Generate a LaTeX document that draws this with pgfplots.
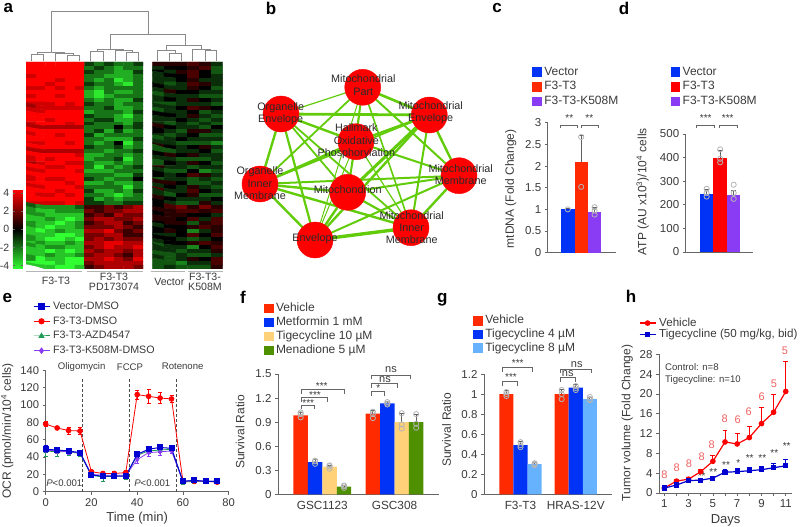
\documentclass[border=0pt]{standalone}
\usepackage{pgfplots}
\pgfplotsset{compat=1.18}
\usepackage{fontspec}
\setmainfont{Liberation Sans}
\newcommand\fs[1]{\fontsize{#1}{#1}\selectfont}
\definecolor{axcol}{HTML}{666666}
\definecolor{txt}{HTML}{3A3A3A}
\definecolor{nettxt}{HTML}{2A2A2A}
\definecolor{edgecol}{HTML}{62CC0A}
\definecolor{dendro}{HTML}{8A8A8A}
\definecolor{dotcol}{HTML}{B4B4B4}
\definecolor{ebcol}{HTML}{606060}
\definecolor{cblue}{HTML}{0033F5}
\definecolor{cred}{HTML}{FF2A00}
\definecolor{cpurple}{HTML}{8A3CF5}
\definecolor{cyellow}{HTML}{FFD27A}
\definecolor{cgreen}{HTML}{4F9000}
\definecolor{clight}{HTML}{66B2FF}
\definecolor{lred}{HTML}{F06060}
\definecolor{vblue}{HTML}{0000D0}
\definecolor{azd}{HTML}{1E9A55}

\pgfplotsset{
  pan/.style={
    scale only axis, anchor=south west, clip=false, enlargelimits=false,
    axis x line*=bottom, axis y line*=left,
    axis line style={axcol,line width=.8pt},
    tick align=outside, tick style={axcol,line width=.7pt}, major tick length=3pt,
    tick label style={font=\fs{11.5},color=txt},
    /pgf/number format/assume math mode=true,
    scaled y ticks=false,
  },
  ylab/.style 2 args={every axis y label/.style={at={(axis description cs:0,#2)},xshift=#1pt,rotate=90,anchor=center,font=\fs{12},color=txt}},
  xlab/.style={every axis x label/.style={at={(axis description cs:0.5,0)},yshift=#1pt,anchor=center,font=\fs{13},color=txt}},
  legat/.style 2 args={legend style={at={(axis description cs:0,0)},anchor=north west,xshift=#1pt,yshift=#2pt,
      draw=none,fill=none,inner sep=0pt,outer sep=0pt,font=\fs{12},text=txt,
      nodes={inner sep=0pt,text height=8.6pt,text depth=2.6pt,anchor=west}},
      legend cell align=left},
  sw/.style={legend image code/.code={\fill[##1] (0pt,-4.8pt) rectangle (9.7pt,4.8pt); \path (12pt,0pt);}},
  ln/.style={legend image code/.code={\draw[mark repeat=2,mark phase=2,##1] plot coordinates {(0pt,0pt)(8pt,0pt)(16pt,0pt)}; \path (19pt,0pt);}},
  ebar/.style={error bars/y dir=plus,error bars/y explicit,
    error bars/error bar style={color=#1,line width=.9pt},
    error bars/error mark options={rotate=90,mark size=2.4pt,color=#1,line width=.9pt}},
  ebboth/.style={error bars/y dir=both,error bars/y explicit,
    error bars/error bar style={color=#1,line width=.7pt},
    error bars/error mark options={rotate=90,mark size=2pt,color=#1,line width=.7pt}},
  dots/.style={only marks,forget plot,mark=o,mark size=2.6pt,mark options={draw=dotcol,line width=.8pt}},
  bar/.style={ybar,bar shift=0pt,draw=none,fill=#1,sw},
  hm/.style={matrix plot*,mesh/cols=#1,point meta=explicit},
  heat/.style={scale only axis,anchor=south west,hide axis,enlargelimits=false,y dir=reverse,
    colormap={rg}{rgb255(0)=(50,255,50) rgb255(1)=(0,0,0) rgb255(2)=(255,0,0)},
    point meta min=-4.4,point meta max=4.4},
  pixgrid/.style={at={(0pt,0pt)},anchor=south west,scale only axis,width=800pt,height=527pt,
    hide axis,clip=false,enlargelimits=false,xmin=0,xmax=800,ymin=0,ymax=527,y dir=reverse},
}

% helpers for the pixel-grid overlay axis
\newcommand\e[5]{\addplot[edgecol,line width=#5pt] coordinates {(#1,#2)(#3,#4)};}
\newcommand\dn[1]{\addplot[dendro,line width=.8pt] coordinates {#1};}
\newcommand\br[4]{\addplot[axcol,line width=.7pt] coordinates {(#1,#4)(#1,#3)(#2,#3)(#2,#4)};}
\newcommand\lab[3]{\node[font=\fs{10.6},color=txt,align=center,inner sep=0pt] at (#1,#2) {#3};}
\newcommand\net[3]{\node[font=\fs{10.8},color=nettxt,align=center,inner sep=0pt] at (#1,#2) {#3};}
\newcommand\sig[3]{\node[font=\fs{10},color=txt,inner sep=0pt] at (#1,#2) {#3};}
\newcommand\plet[3]{\node[font=\bfseries\fs{17},color=black,inner sep=0pt] at (#1,#2) {#3};}
\newcommand\hl[3]{\node[font=\fs{11},color=lred,inner sep=0pt] at (#1,#2) {#3};}

\begin{document}
\begin{tikzpicture}[x=1pt,y=1pt]
\path[use as bounding box] (0pt,0pt) rectangle (800pt,527pt);

% overlay in reference pixels: dendrograms, network, brackets, letters
\begin{axis}[pixgrid]
\plet{8.3}{8.3}{a}\plet{271}{8.3}{b}\plet{497}{8.3}{c}\plet{624}{8.3}{d}
\plet{7.3}{297.7}{e}\plet{243}{297.7}{f}\plet{442.3}{299.3}{g}\plet{631}{296.7}{h}

% dendrogram
\dn{(51,52.7)(51,11.7)(148.3,11.7)(148.3,34.3)}
\dn{(110.7,49.3)(110.7,34.3)(185,34.3)(185,45)}
\dn{(166.7,50.7)(166.7,45)(201.7,45)(201.7,49)}
\dn{(31.7,61.3)(31.7,54)(43.3,54)(43.3,61.3)}
\dn{(55.7,61.3)(55.7,53.3)(73.3,53.3)(73.3,55)}
\dn{(67.7,61.3)(67.7,55)(79.3,55)(79.3,61.3)}
\dn{(37.3,54)(37.3,52.7)(64.7,52.7)(64.7,53.3)}
\dn{(90.7,61.3)(90.7,51.7)(103.3,51.7)(103.3,61.3)}
\dn{(115,61.3)(115,50.7)(132.3,50.7)(132.3,52)}
\dn{(126.7,61.3)(126.7,52)(138.3,52)(138.3,61.3)}
\dn{(97,51.7)(97,49.3)(123.3,49.3)(123.3,50.7)}
\dn{(157.3,61.3)(157.3,50.7)(175,50.7)(175,53.3)}
\dn{(169.3,61.3)(169.3,53.3)(181,53.3)(181,61.3)}
\dn{(192.7,61.3)(192.7,49)(210.7,49)(210.7,50.7)}
\dn{(205,61.3)(205,50.7)(216.7,50.7)(216.7,61.3)}
\addplot[dotcol,line width=1pt] coordinates {(26,271)(81.7,271)};
\addplot[dotcol,line width=1pt] coordinates {(86.7,271)(142.7,271)};
\addplot[dotcol,line width=1pt] coordinates {(150.7,271)(185,271)};
\addplot[dotcol,line width=1pt] coordinates {(188.3,271)(223.3,271)};
\lab{56}{281}{F3-T3}
\lab{114}{281.5}{F3-T3\\[-.5pt]PD173074}
\lab{169.3}{281.7}{Vector}
\lab{205}{282}{F3-T3-\\[-.5pt]K508M}

% network edges
\e{362.7}{87.3}{281}{114}{1.2}
\e{362.7}{87.3}{429.3}{115}{2.6}
\e{362.7}{87.3}{356}{141.7}{1.6}
\e{362.7}{87.3}{459}{175.7}{2}
\e{362.7}{87.3}{260}{184}{1.8}
\e{362.7}{87.3}{347.7}{192.3}{1.5}
\e{362.7}{87.3}{411}{227.7}{1.6}
\e{362.7}{87.3}{315}{240}{1}
\e{281}{114}{429.3}{115}{2.8}
\e{281}{114}{356}{141.7}{2.4}
\e{281}{114}{260}{184}{2.4}
\e{281}{114}{315}{240}{2.2}
\e{281}{114}{347.7}{192.3}{1.8}
\e{281}{114}{411}{227.7}{1.8}
\e{429.3}{115}{356}{141.7}{2.4}
\e{429.3}{115}{459}{175.7}{2.4}
\e{429.3}{115}{411}{227.7}{2}
\e{429.3}{115}{260}{184}{1.6}
\e{429.3}{115}{347.7}{192.3}{3}
\e{429.3}{115}{315}{240}{2.4}
\e{356}{141.7}{260}{184}{2.6}
\e{356}{141.7}{459}{175.7}{2}
\e{356}{141.7}{347.7}{192.3}{1.5}
\e{356}{141.7}{411}{227.7}{1.2}
\e{356}{141.7}{315}{240}{1}
\e{459}{175.7}{260}{184}{2}
\e{459}{175.7}{347.7}{192.3}{2}
\e{459}{175.7}{411}{227.7}{2.4}
\e{459}{175.7}{315}{240}{2}
\e{260}{184}{347.7}{192.3}{2.4}
\e{260}{184}{411}{227.7}{2.4}
\e{260}{184}{315}{240}{2.4}
\e{347.7}{192.3}{411}{227.7}{2.2}
\e{347.7}{192.3}{315}{240}{2.4}
\e{411}{227.7}{315}{240}{3.4}
\addplot[red,only marks,mark=*,mark size=18pt,mark options={draw=red,fill=red}] coordinates {
  (362.7,87.3)(281,114)(429.3,115)(356,141.7)(459,175.7)(260,184)(347.7,192.3)(411,227.7)(315,240)};

% brackets c, d
\br{560}{577.3}{125}{128.3}\br{581}{598.3}{125}{128.3}
\sig{569.3}{118.3}{**}\sig{589.3}{118.3}{**}
\br{696.7}{714}{125.3}{128.3}\br{719}{737}{125.3}{128.3}
\sig{705.7}{118.3}{***}\sig{727.7}{118.3}{***}
% brackets f
\br{301}{314}{405.7}{409.3}\sig{308.3}{402.7}{***}
\br{301}{327.3}{397.3}{401.7}\sig{315}{394.7}{***}
\br{301}{344.3}{389.3}{394}\sig{321.7}{386}{***}
\br{371.7}{384.3}{391.7}{396}\sig{378.3}{388.3}{*}
\br{371.7}{397.7}{383.3}{387.7}\node[font=\fs{11},color=txt] at (385,379.3) {ns};
\br{371.7}{410.7}{375}{379.3}\node[font=\fs{11},color=txt] at (391,369.3) {ns};
% brackets g
\br{502.7}{517.3}{381.7}{386}\sig{511}{377.3}{***}
\br{502.7}{532.3}{367.3}{372}\sig{517.7}{362.7}{***}
\br{560.7}{575}{377.7}{382}\node[font=\fs{11},color=txt] at (567.7,373.3) {ns};
\br{560.7}{591.3}{369}{373.3}\node[font=\fs{11},color=txt] at (576.7,364.3) {ns};

% annotations e
\node[font=\fs{9.6},color=txt] at (81.7,366.7) {Oligomycin};
\node[font=\fs{9.6},color=txt] at (130,366.7) {FCCP};
\node[font=\fs{9.6},color=txt] at (182.7,366.7) {Rotenone};
\node[font=\fs{9.6},color=txt] at (64.3,483.3) {\textit{P}<0.001};
\node[font=\fs{9.6},color=txt] at (152.3,483.3) {\textit{P}<0.001};
% annotations h
\node[font=\fs{9.6},color=txt,anchor=west,inner sep=0pt] at (665,367) {Control: n=8};
\node[font=\fs{9.6},color=txt,anchor=west,inner sep=0pt] at (665,380) {Tigecycline: n=10};
\hl{664.3}{474.3}{8}\hl{676.7}{467.3}{8}\hl{689}{463.3}{8}\hl{701.7}{456.3}{8}\hl{711.7}{445}{8}
\hl{724.7}{419}{8}\hl{737.7}{419.7}{6}\hl{748.7}{411.3}{6}\hl{761.7}{396.7}{6}\hl{774}{383.3}{5}\hl{785}{350.7}{5}
\sig{701.7}{476}{**}\sig{713.3}{471.7}{**}\sig{726}{465}{**}\sig{738.3}{462.7}{*}\sig{749.7}{458.3}{**}
\sig{762.3}{457.7}{**}\sig{774.3}{452.7}{**}\sig{786.7}{446}{**}
\end{axis}

% network labels go over the node discs
\begin{axis}[pixgrid]
\net{363.3}{85}{Mitochondrial\\[1.5pt]Part}
\net{280.7}{114}{Organelle\\[1.5pt]Envelope}
\net{430.7}{112.7}{Mitochondrial\\[1.5pt]Envelope}
\net{356.3}{141.3}{Hallmark\\[1.5pt]Oxidative\\[1.5pt]Phosphorylation}
\net{460.7}{174.3}{Mitochondrial\\[1.5pt]Membrane}
\net{260}{183.3}{Organelle\\[1.5pt]Inner\\[1.5pt]Membrane}
\net{347.7}{190}{Mitochondrion}
\net{411.7}{227.7}{Mitochondrial\\[1.5pt]Inner\\[1.5pt]Membrane}
\net{315}{238.3}{Envelope}
\end{axis}

% a: heat map, left block
\begin{axis}[heat,at={(26pt,258pt)},width=117pt,height=207pt,xmin=-.5,xmax=11.5,ymin=-.5,ymax=51.5,
  colorbar,colorbar style={at={(parent axis.south west)},anchor=south west,xshift=-21.7pt,
    width=10pt,height=79.3pt,ytick={-4,-2,0,2,4},yticklabel pos=left,
    axis line style={draw=none},tick style={axcol,line width=.6pt},major tick length=2pt,
    tick label style={font=\fs{10.5},color=txt},/pgf/number format/assume math mode=true}]
\addplot[hm=12] table[row sep=\\,header=false,x expr={mod(\coordindex,12)},y expr={floor(\coordindex/12)},meta index=0] {
4.4\\4.4\\4.4\\4.4\\4.4\\4.4\\-1\\-2\\-1\\-2\\-2\\-1\\
4.4\\4.4\\4.4\\4.4\\4.4\\4.4\\-2\\-1\\-2\\-3\\-2\\-2\\
4.4\\4.4\\4.4\\4.4\\4.4\\4.4\\-1\\-2\\-2\\-3\\-3\\-1\\
3.6\\4.4\\4.4\\4.4\\4.4\\4.4\\-2\\-2\\-3\\-3\\-3\\-2\\
4.4\\4.4\\4.4\\3.6\\4.4\\4.4\\-2\\-3\\-2\\-4\\-3\\-2\\
4.4\\4.4\\3.6\\4.4\\4.4\\4.4\\-1\\-2\\-2\\-3\\-4\\-2\\
3.6\\3.6\\4.4\\3.6\\4.4\\3.6\\-2\\-3\\-2\\-2\\-2\\-2\\
4.4\\4.4\\4.4\\4.4\\4.4\\4.4\\-3\\-4\\-2\\-3\\-3\\-2\\
3.6\\4.4\\4.4\\3.6\\4.4\\4.4\\-3\\-4\\-3\\-2\\-2\\-2\\
4.4\\4.4\\4.4\\4.4\\4.4\\4.4\\-2\\-3\\-2\\-3\\-3\\-1\\
3.6\\3.6\\3.6\\4.4\\3.6\\4.4\\-1\\-2\\-2\\-3\\-2\\-2\\
2.8\\3.6\\3.6\\3.6\\3.6\\3.6\\-2\\-2\\-1\\-3\\-3\\-2\\
3.6\\3.6\\4.4\\4.4\\4.4\\4.4\\-3\\-2\\-2\\-2\\-3\\-1\\
4.4\\4.4\\4.4\\4.4\\4.4\\4.4\\-1\\-2\\-2\\-3\\-4\\-2\\
4.4\\4.4\\3.6\\4.4\\4.4\\4.4\\-2\\-1\\-1\\-3\\-3\\-2\\
3.6\\4.4\\4.4\\4.4\\3.6\\4.4\\-1\\-2\\-2\\-2\\-3\\-1\\
3\\3\\3\\3\\3\\3\\-2\\-2\\-2\\0\\-2\\-1\\
4.4\\4.4\\4.4\\4.4\\4.4\\4.4\\-2\\-1\\-3\\-1\\-3\\-2\\
3.6\\4.4\\4.4\\3.6\\4.4\\4.4\\-1\\-3\\-2\\-2\\-2\\-2\\
4.4\\4.4\\4.4\\4.4\\4.4\\4.4\\-2\\-2\\-3\\-3\\-3\\-1\\
3.6\\3.6\\4.4\\4.4\\3.6\\4.4\\-2\\-3\\-2\\0\\-4\\-2\\
4.4\\4.4\\4.4\\4.4\\4.4\\4.4\\-1\\-2\\-2\\-1\\-3\\-2\\
3\\3\\3\\3\\3\\3\\-2\\-2\\-3\\-2\\-2\\-1\\
4.4\\4.4\\4.4\\4.4\\4.4\\3.6\\-3\\-3\\-2\\-2\\-3\\-2\\
3.6\\4.4\\3.6\\4.4\\4.4\\4.4\\-3\\-2\\-2\\-1\\-4\\-2\\
2.8\\3.6\\4.4\\4.4\\3.6\\3.6\\-2\\-3\\-3\\-2\\-3\\-2\\
4.4\\4.4\\3.6\\3.6\\4.4\\4.4\\-2\\-4\\-2\\-3\\-2\\-1\\
3.6\\3.6\\4.4\\4.4\\4.4\\3.6\\-3\\-3\\-3\\-2\\-2\\-2\\
4.4\\4.4\\4.4\\4.4\\4.4\\4.4\\-2\\-2\\-2\\-3\\-3\\-1\\
3.6\\4.4\\3.6\\3.6\\4.4\\4.4\\-1\\-2\\-3\\-2\\-2\\0\\
4.4\\4.4\\4.4\\4.4\\3.6\\4.4\\-3\\-3\\-2\\-3\\-3\\-2\\
3.6\\3.6\\4.4\\4.4\\4.4\\3.6\\-2\\-2\\-2\\-2\\-4\\-2\\
4.4\\4.4\\4.4\\3.6\\4.4\\4.4\\-1\\-3\\-3\\-2\\-3\\-1\\
4.4\\3.6\\3.6\\4.4\\3.6\\4.4\\-2\\-2\\-3\\-4\\-3\\-2\\
4.4\\4.4\\4.4\\4.4\\4.4\\4.4\\-1\\-3\\-2\\-3\\-2\\-2\\
3.6\\3.6\\3.6\\3.6\\4.4\\3.6\\-1\\-1\\-2\\-2\\-1\\-1\\
-1.5\\-2.5\\-2.5\\-2.5\\-2.5\\-1.5\\1\\1\\2\\1\\2\\3\\
-2.5\\-3.4\\-3.4\\-2.5\\-2.5\\-2.5\\2\\1\\2\\2\\3\\3\\
-2.5\\-2.5\\-3.4\\-3.4\\-3.4\\-3.4\\1\\2\\1\\3\\2\\2\\
-3.4\\-3.4\\-2.5\\-3.4\\-4.4\\-3.4\\2\\3\\3\\2\\2\\3\\
-2.5\\-3.4\\-3.4\\-4.4\\-3.4\\-2.5\\1\\2\\3\\3\\1\\2\\
-2.5\\-3.4\\-4.4\\-3.4\\-3.4\\-2.5\\2\\2\\2\\3\\2\\1\\
-3.4\\-4.4\\-3.4\\-2.5\\-3.4\\-3.4\\3\\3\\4\\2\\1\\2\\
-3.4\\-3.4\\-3.4\\-4.4\\-4.4\\-3.4\\2\\2\\3\\3\\1\\1\\
-2.5\\-3.4\\-4.4\\-4.4\\-3.4\\-4.4\\2\\3\\2\\3\\2\\2\\
-3.4\\-2.5\\-3.4\\-3.4\\-2.5\\-3.4\\3\\3\\4\\4\\3\\3\\
-2.5\\-3.4\\-2.5\\-2.5\\-3.4\\-3.4\\2\\3\\4\\3\\3\\4\\
-3.4\\-3.4\\-4.4\\-3.4\\-4.4\\-3.4\\3\\2\\3\\3\\2\\3\\
-3.4\\-3.4\\-2.5\\-3.4\\-3.4\\-2.5\\2\\3\\3\\2\\1\\3\\
-2.5\\-4.4\\-3.4\\-3.4\\-4.4\\-4.4\\3\\3\\4\\3\\2\\4\\
-4.4\\-4.4\\-4.4\\-3.4\\-4.4\\-4.4\\2\\3\\3\\3\\3\\3\\
-3.4\\-3.4\\-3.4\\-4.4\\-4.4\\-3.4\\1\\2\\3\\3\\3\\2\\
};
\end{axis}

% a: heat map, right block
\begin{axis}[heat,at={(152.3pt,258pt)},width=70.4pt,height=207pt,xmin=-.5,xmax=5.5,ymin=-.5,ymax=51.5]
\addplot[hm=6] table[row sep=\\,header=false,x expr={mod(\coordindex,6)},y expr={floor(\coordindex/6)},meta index=0] {
.7\\.7\\.7\\1.3\\.7\\-.8\\
-.8\\0\\0\\.7\\1.3\\-1.5\\
0\\-.8\\.7\\1.3\\0\\-1.5\\
-.8\\0\\0\\1.3\\0\\-.8\\
-.8\\-.8\\0\\.7\\-.8\\-.8\\
-.8\\-1.5\\-.8\\1.3\\.7\\-.8\\
0\\-.8\\-.8\\.7\\0\\-1.5\\
-.8\\.7\\0\\0\\-.8\\-.8\\
-1.5\\-.8\\-.8\\-.8\\-1.5\\-1.5\\
-.8\\0\\-.8\\.7\\0\\-.8\\
-1.5\\-1.5\\-.8\\-.8\\-.8\\-1.5\\
-.8\\-.8\\0\\1.3\\.7\\0\\
-1.5\\-.8\\-.8\\0\\-1.5\\-.8\\
0\\0\\-.8\\.7\\-.8\\-1.5\\
-.8\\-.8\\0\\-.8\\-1.5\\-.8\\
-.8\\-1.5\\-.8\\-1.5\\-.8\\-1.5\\
.7\\0\\-.8\\-.8\\-1.5\\0\\
0\\-.8\\-1.5\\.7\\.7\\-.8\\
-.8\\-1.5\\-.8\\0\\-1.5\\-1.5\\
-1.5\\-.8\\0\\-.8\\-.8\\-.8\\
-.8\\-.8\\-1.5\\-1.5\\-1.5\\-2.3\\
.7\\0\\-.8\\0\\.7\\-.8\\
-1.5\\-1.5\\-.8\\-.8\\0\\-1.5\\
0\\.7\\0\\.7\\-.8\\-.8\\
-.8\\-.8\\-1.5\\-1.5\\-1.5\\-.8\\
-1.5\\0\\-.8\\.7\\0\\-1.5\\
.7\\-.8\\-.8\\-1.5\\-.8\\-.8\\
-.8\\-1.5\\-1.5\\0\\-2.3\\-1.5\\
0\\-.8\\0\\1.3\\.7\\-.8\\
-1.5\\-.8\\-.8\\-1.5\\-.8\\-1.5\\
.7\\.7\\0\\-1.5\\-1.5\\-.8\\
-.8\\0\\-.8\\.7\\-.8\\-1.5\\
1.3\\-.8\\-.8\\1.3\\0\\-.8\\
-.8\\-1.5\\0\\.7\\-1.5\\-1.5\\
.7\\0\\-.8\\-.8\\-.8\\0\\
0\\-.8\\-1.5\\-1.5\\.7\\-.8\\
0\\1.3\\2\\.7\\2\\.7\\
.7\\.7\\1.3\\1.3\\.7\\1.3\\
0\\.7\\.7\\0\\0\\-.8\\
.7\\.7\\0\\1.3\\-.8\\1.3\\
0\\.7\\.7\\-1.5\\.7\\1.3\\
-.8\\0\\0\\.7\\1.3\\.7\\
0\\.7\\0\\-2.3\\-.8\\.7\\
-.8\\-.8\\0\\1.3\\0\\1.3\\
0\\0\\-.8\\-1.5\\-.8\\0\\
-.8\\0\\0\\.7\\1.3\\.7\\
-1.5\\-.8\\-.8\\-2.3\\0\\1.3\\
-.8\\-.8\\-1.5\\-.8\\-.8\\.7\\
-1.5\\-1.5\\-.8\\-1.5\\-1.5\\-.8\\
-.8\\-1.5\\-.8\\.7\\0\\1.3\\
-1.5\\-1.5\\-2.3\\-.8\\-.8\\1.3\\
-1.5\\-.8\\-1.5\\-1.5\\-1.5\\.7\\
};
\end{axis}

% c
\begin{axis}[pan,at={(547.7pt,274.3pt)},width=68pt,height=130pt,xmin=-2.5,xmax=2.575,ymin=0,ymax=3,
  bar width=13.4pt,xtick=\empty,ytick={0,0.5,1,1.5,2,2.5,3},
  ylabel={mtDNA (Fold Change)},ylab={-37}{.492},legat={-15.4}{186},legend style={row sep=3.5pt}]
\addplot[bar=cblue,ebar=ebcol] coordinates {(-1,1) +- (0,0.02)};
\addlegendentry{Vector}
\addplot[bar=cred,ebar=ebcol] coordinates {(0,2.1) +- (0,0.6)};
\addlegendentry{F3-T3}
\addplot[bar=cpurple,ebar=ebcol] coordinates {(1,0.95) +- (0,0.1)};
\addlegendentry{F3-T3-K508M}
\addplot[dots] coordinates {(-1,1)(0,2.67)(0,1.52)(1,1.05)(1,0.88)(1,0.97)};
\end{axis}

% d
\begin{axis}[pan,at={(685.7pt,275pt)},width=67.3pt,height=118pt,xmin=-2.55,xmax=2.43,ymin=0,ymax=500,
  bar width=13.5pt,xtick=\empty,ytick={0,100,200,300,400,500},
  ylabel={ATP (AU x10\textsuperscript{3})/10\textsuperscript{4} cells},ylab={-43}{.51},legat={-15}{185.3},legend style={row sep=3.5pt}]
\addplot[bar=cblue,ebar=ebcol] coordinates {(-1,245) +- (0,20)};
\addlegendentry{Vector}
\addplot[bar=red,ebar=ebcol] coordinates {(0,400) +- (0,30)};
\addlegendentry{F3-T3}
\addplot[bar=cpurple,ebar=ebcol] coordinates {(1,240) +- (0,20)};
\addlegendentry{F3-T3-K508M}
\addplot[dots] coordinates {(-1,268)(-1,250)(-1,235)(0,435)(0,395)(0,380)(1,285)(1,250)(1,225)};
\end{axis}

% e
\begin{axis}[pan,at={(45.7pt,35.3pt)},width=183pt,height=121.4pt,xmin=0,xmax=80,ymin=0,ymax=140,
  xtick={0,20,40,60,80},ytick={0,20,40,60,80,100,120,140},
  xlabel={Time (min)},xlab={-26.6},
  ylabel={OCR (pmol/min/10\textsuperscript{4} cells)},ylab={-38.4}{.5},
  legat={-12.7}{190.7},legend style={row sep=3.5pt,font=\fs{10.7}},
  tick label style={font=\fs{11.2}}]
\addlegendimage{ln,vblue,line width=1pt,mark=square*,mark size=2.6pt}
\addlegendentry{Vector-DMSO}
\addlegendimage{ln,red,line width=1pt,mark=*,mark size=2.6pt}
\addlegendentry{F3-T3-DMSO}
\addlegendimage{ln,azd,line width=1pt,mark=triangle*,mark size=2.6pt}
\addlegendentry{F3-T3-AZD4547}
\addlegendimage{ln,cpurple,line width=1pt,mark=diamond*,mark size=2.6pt}
\addlegendentry{F3-T3-K508M-DMSO}
\addplot[forget plot,black!70,densely dashed,line width=.6pt] coordinates {(16.2,0)(16.2,131)};
\addplot[forget plot,black!70,densely dashed,line width=.6pt] coordinates {(36.6,0)(36.6,131)};
\addplot[forget plot,black!70,densely dashed,line width=.6pt] coordinates {(57,0)(57,131)};
\addplot[forget plot,red,line width=.8pt,mark=*,mark size=2.4pt,ebboth=red] coordinates {
(0,78) +- (0,3) (5,73.5) +- (0,1) (10,70.5) +- (0,4) (15,70) +- (0,4)
(20,23) +- (0,2) (25,21) +- (0,2) (30,21) +- (0,3) (35,22) +- (0,3)
(40,112) +- (0,5) (45,110) +- (0,8) (50,108) +- (0,6) (55,107) +- (0,4)
(60,12) +- (0,1) (65,12) +- (0,1) (70,12) +- (0,1) (75,11) +- (0,1)};
\addplot[forget plot,azd,line width=.8pt,mark=triangle*,mark size=2.2pt,ebboth=azd] coordinates {
(0,47) +- (0,6) (5,46) +- (0,5) (10,46) +- (0,4) (15,44) +- (0,3)
(20,19) +- (0,2) (25,17) +- (0,5) (30,18) +- (0,3) (35,18) +- (0,4)
(40,42) +- (0,3) (45,47) +- (0,3) (50,48) +- (0,3) (55,49) +- (0,3)
(60,11) +- (0,2) (65,12) +- (0,2) (70,12) +- (0,1) (75,12) +- (0,1)};
\addplot[forget plot,cpurple,line width=.8pt,mark=diamond*,mark size=2.2pt,ebboth=cpurple] coordinates {
(0,48) +- (0,3) (5,47) +- (0,3) (10,46) +- (0,3) (15,45) +- (0,2)
(20,20) +- (0,2) (25,19) +- (0,2) (30,19) +- (0,2) (35,19) +- (0,2)
(40,37) +- (0,4) (45,45) +- (0,4) (50,46) +- (0,4) (55,47) +- (0,3)
(60,12) +- (0,1) (65,13) +- (0,1) (70,12) +- (0,1) (75,12) +- (0,1)};
\addplot[forget plot,vblue,line width=1pt,mark=square*,mark size=2.5pt,ebboth=vblue] coordinates {
(0,49) +- (0,4) (5,48) +- (0,3) (10,47) +- (0,3) (15,45) +- (0,3)
(20,19) +- (0,2) (25,18) +- (0,3) (30,18) +- (0,2) (35,18) +- (0,3)
(40,43) +- (0,3) (45,49) +- (0,3) (50,51) +- (0,4) (55,50) +- (0,3)
(60,12) +- (0,2) (65,13) +- (0,2) (70,12) +- (0,1) (75,12) +- (0,1)};
\end{axis}

% f
\begin{axis}[pan,at={(278pt,32.7pt)},width=161pt,height=120.3pt,xmin=-.614,xmax=1.616,ymin=0,ymax=1.5,
  bar width=14.44pt,xtick={0,1},xticklabels={GSC1123,GSC308},x tick style={draw=none},
  ytick={0,0.3,0.6,0.9,1.2,1.5},x tick label style={font=\fs{11.8}},
  ylabel={Survival Ratio},ylab={-38}{.518},legat={-14}{191.2},legend style={row sep=2.7pt}]
\addplot[bar=cred,ebar=ebcol] coordinates {(-0.3,0.985) +- (0,0.04) (0.7,1.005) +- (0,0.04)};
\addlegendentry{Vehicle}
\addplot[bar=cblue,ebar=ebcol] coordinates {(-0.1,0.40) +- (0,0.03) (0.9,1.135) +- (0,0.02)};
\addlegendentry{Metformin 1 mM}
\addplot[bar=cyellow,ebar=ebcol] coordinates {(0.1,0.345) +- (0,0.02) (1.1,0.90) +- (0,0.11)};
\addlegendentry{Tigecycline 10 µM}
\addplot[bar=cgreen,ebar=ebcol] coordinates {(0.3,0.095) +- (0,0.02) (1.3,0.90) +- (0,0.1)};
\addlegendentry{Menadione 5 µM}
\addplot[dots] coordinates {(-0.3,1.0)(-0.3,0.96)(-0.3,1.02)(-0.1,0.42)(-0.1,0.38)(-0.1,0.41)
  (0.1,0.35)(0.1,0.32)(0.1,0.36)(0.3,0.1)(0.3,0.08)(0.3,0.11)
  (0.7,1.03)(0.7,0.95)(0.7,1.0)(0.9,1.15)(0.9,1.12)(0.9,1.13)
  (1.1,1.01)(1.1,0.82)(1.1,0.87)(1.3,1.0)(1.3,0.83)(1.3,0.88)};
\end{axis}

% g
\begin{axis}[pan,at={(484pt,32.7pt)},width=128.3pt,height=120.3pt,xmin=-2.59,xmax=6.51,ymin=0,ymax=1.2,
  bar width=14.1pt,xtick={0,3.92},xticklabels={F3-T3,HRAS-12V},x tick style={draw=none},
  ytick={0,0.2,0.4,0.6,0.8,1,1.2},x tick label style={font=\fs{11.8}},
  ylabel={Survival Ratio},ylab={-37.3}{.535},legat={-10.7}{179},legend style={row sep=2.4pt}]
\addplot[bar=cred,ebar=ebcol] coordinates {(-1,1.0) +- (0,0.04) (2.92,1.0) +- (0,0.05)};
\addlegendentry{Vehicle}
\addplot[bar=cblue,ebar=ebcol] coordinates {(0,0.49) +- (0,0.04) (3.92,1.065) +- (0,0.03)};
\addlegendentry{Tigecycline 4 µM}
\addplot[bar=clight,ebar=ebcol] coordinates {(1,0.30) +- (0,0.02) (4.92,0.95) +- (0,0.02)};
\addlegendentry{Tigecycline 8 µM}
\addplot[dots] coordinates {(-1,1.02)(-1,0.98)(-1,1.0)(0,0.52)(0,0.47)(0,0.49)(1,0.31)(1,0.3)(1,0.29)
  (2.92,1.04)(2.92,0.95)(2.92,1.0)(3.92,1.08)(3.92,1.04)(3.92,1.06)(4.92,0.97)(4.92,0.94)(4.92,0.95)};
\end{axis}

% h
\begin{axis}[pan,at={(659pt,34pt)},width=133.3pt,height=138.7pt,xmin=0.563,xmax=11.54,ymin=0,ymax=28,
  xtick={1,3,5,7,9,11},minor xtick={2,4,6,8,10},ytick={0,4,8,12,16,20,24,28},
  minor tick length=3pt,xlabel={Days},xlab={-27},
  ylabel={Tumor volume (Fold Change)},ylab={-31.7}{.505},
  legat={-20}{175.5},legend style={row sep=0pt,font=\fs{11.6}}]
\addplot[ln,red,line width=1.2pt,mark=*,mark size=2.2pt,ebar=red] coordinates {
(1,1) +- (0,0.2) (2,2.4) +- (0,0.3) (3,2.8) +- (0,0.3) (4,4.3) +- (0,0.5) (5,6.4) +- (0,1.1)
(6,10.3) +- (0,2.3) (7,9.9) +- (0,2.2) (8,11.2) +- (0,2.2) (9,14) +- (0,3.3) (10,16.3) +- (0,3.6) (11,20.5) +- (0,6)};
\addlegendentry{Vehicle}
\addplot[ln,vblue,line width=1.2pt,mark=square*,mark size=2pt,ebar=vblue] coordinates {
(1,1) +- (0,0.2) (2,1.6) +- (0,0.3) (3,2.5) +- (0,0.3) (4,2.6) +- (0,0.4) (5,3) +- (0,0.3)
(6,4.2) +- (0,0.5) (7,4.3) +- (0,0.6) (8,4.5) +- (0,0.6) (9,4.7) +- (0,0.7) (10,5.1) +- (0,0.8) (11,5.5) +- (0,1.2)};
\addlegendentry{Tigecycline (50 mg/kg, bid)}
\end{axis}
\end{tikzpicture}
\end{document}
